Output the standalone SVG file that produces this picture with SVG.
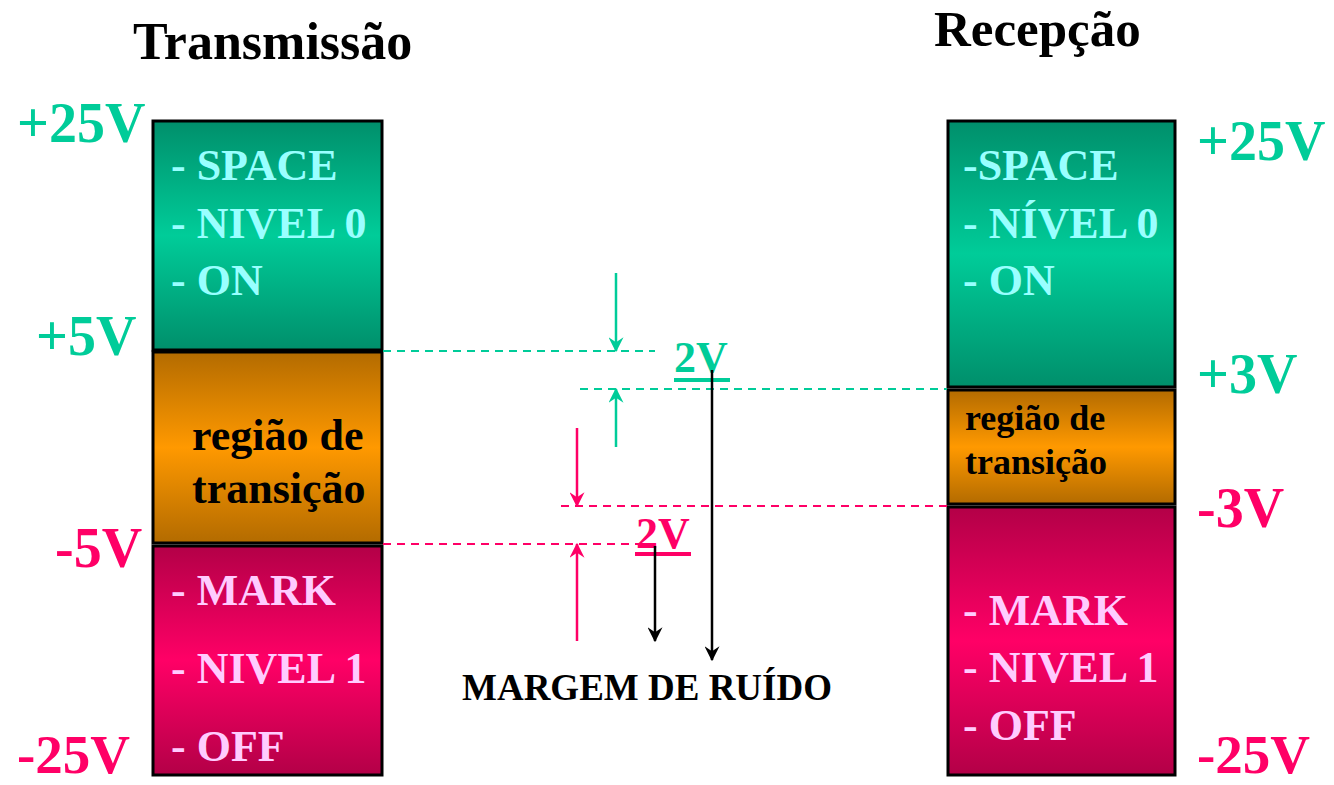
<svg xmlns="http://www.w3.org/2000/svg" width="1334" height="785" viewBox="0 0 1334 785">
<defs>
<linearGradient id="gGreen" x1="0" y1="0" x2="0" y2="1">
<stop offset="0" stop-color="#008f6b"/><stop offset="0.5" stop-color="#00cc99"/><stop offset="1" stop-color="#008f6b"/>
</linearGradient>
<linearGradient id="gOrange" x1="0" y1="0" x2="0" y2="1">
<stop offset="0" stop-color="#b36b00"/><stop offset="0.5" stop-color="#ff9900"/><stop offset="1" stop-color="#b36b00"/>
</linearGradient>
<linearGradient id="gPink" x1="0" y1="0" x2="0" y2="1">
<stop offset="0" stop-color="#b30047"/><stop offset="0.5" stop-color="#ff0066"/><stop offset="1" stop-color="#b30047"/>
</linearGradient>
<marker id="aTeal" viewBox="0 0 12 12" refX="11" refY="6" markerWidth="15" markerHeight="15" markerUnits="userSpaceOnUse" orient="auto">
<path d="M0,0 L12,6 L0,12 L4,6 Z" fill="#00cc99"/>
</marker>
<marker id="aPink" viewBox="0 0 12 12" refX="11" refY="6" markerWidth="15" markerHeight="15" markerUnits="userSpaceOnUse" orient="auto">
<path d="M0,0 L12,6 L0,12 L4,6 Z" fill="#ff0066"/>
</marker>
<marker id="aBlack" viewBox="0 0 12 12" refX="11" refY="6" markerWidth="15" markerHeight="15" markerUnits="userSpaceOnUse" orient="auto">
<path d="M0,0 L12,6 L0,12 L4,6 Z" fill="#000"/>
</marker>
</defs>
<style>
text{font-family:"Liberation Serif","Times New Roman",serif;font-weight:bold}
.title{font-size:52px;fill:#000}
.vt{font-size:56px;fill:#00cc99}
.vp{font-size:56px;fill:#ff0066}
.bt{font-size:44px;fill:#99ffff}
.bp{font-size:44px;fill:#ffccff}
.bo{font-size:44px;fill:#000}
.bo2{font-size:36px;fill:#000}
.box{stroke:#000;stroke-width:3}
.dt{stroke:#00cc99;stroke-width:2;stroke-dasharray:8 6;fill:none}
.dp{stroke:#ff0066;stroke-width:2;stroke-dasharray:8 6;fill:none}
.at{stroke:#00cc99;stroke-width:2.5;fill:none}
.ap{stroke:#ff0066;stroke-width:2.5;fill:none}
.ab{stroke:#000;stroke-width:2.5;fill:none}
</style>
<rect width="1334" height="785" fill="#fff"/>

<text class="title" x="133" y="59">Transmissão</text>
<text class="title" x="934" y="46" style="font-size:51px">Recepção</text>

<g id="tx-space">
<rect class="box" x="153" y="121" width="229" height="229" fill="url(#gGreen)"/>
<text class="bt" x="171" y="180">- SPACE</text>
<text class="bt" x="171" y="238">- NIVEL 0</text>
<text class="bt" x="171" y="295">- ON</text>
</g>
<g id="tx-trans">
<rect class="box" x="153" y="352" width="229" height="191" fill="url(#gOrange)"/>
<text class="bo" x="192" y="450">região de</text>
<text class="bo" x="192" y="503">transição</text>
</g>
<g id="tx-mark">
<rect class="box" x="153" y="546" width="229" height="229" fill="url(#gPink)"/>
<text class="bp" x="171" y="605">- MARK</text>
<text class="bp" x="171" y="683">- NIVEL 1</text>
<text class="bp" x="171" y="761">- OFF</text>
</g>

<g id="rx-space">
<rect class="box" x="948" y="121" width="227" height="266" fill="url(#gGreen)"/>
<text class="bt" x="963" y="180">-SPACE</text>
<text class="bt" x="963" y="238">- NÍVEL 0</text>
<text class="bt" x="963" y="295">- ON</text>
</g>
<g id="rx-trans">
<rect class="box" x="948" y="390" width="227" height="114" fill="url(#gOrange)"/>
<text class="bo2" x="965" y="430">região de</text>
<text class="bo2" x="965" y="474">transição</text>
</g>
<g id="rx-mark">
<rect class="box" x="948" y="507" width="227" height="268" fill="url(#gPink)"/>
<text class="bp" x="963" y="625">- MARK</text>
<text class="bp" x="963" y="682">- NIVEL 1</text>
<text class="bp" x="963" y="740">- OFF</text>
</g>

<g id="labels">
<text class="vt" x="17" y="142">+25V</text>
<text class="vt" x="36" y="355">+5V</text>
<text class="vp" x="55" y="567">-5V</text>
<text class="vp" x="17" y="773" style="font-size:55px">-25V</text>
<text class="vt" x="1197" y="160">+25V</text>
<text class="vt" x="1197" y="393">+3V</text>
<text class="vp" x="1197" y="527">-3V</text>
<text class="vp" x="1197" y="773" style="font-size:55px">-25V</text>
<text style="font-size:44px;fill:#00cc99" x="674" y="372">2V</text>
<text style="font-size:44px;fill:#ff0066" x="636" y="548">2V</text>
<text style="font-size:37px;fill:#000" x="462" y="700">MARGEM DE RUÍDO</text>
</g>

<g id="connectors">
<line class="dt" x1="383" y1="351" x2="655" y2="351"/>
<line class="dt" x1="580" y1="389" x2="947" y2="389"/>
<line class="dp" x1="561" y1="506" x2="947" y2="506"/>
<line class="dp" x1="383" y1="544" x2="640" y2="544"/>
<line x1="674" y1="380" x2="730" y2="380" stroke="#00cc99" stroke-width="4"/>
<line x1="635" y1="554" x2="691" y2="554" stroke="#ff0066" stroke-width="4"/>
<line class="at" x1="616" y1="273" x2="616" y2="351" marker-end="url(#aTeal)"/>
<line class="at" x1="616" y1="447" x2="616" y2="389" marker-end="url(#aTeal)"/>
<line class="ap" x1="577" y1="428" x2="577" y2="506" marker-end="url(#aPink)"/>
<line class="ap" x1="577" y1="641" x2="577" y2="544" marker-end="url(#aPink)"/>
<line class="ab" x1="712" y1="370" x2="712" y2="660" marker-end="url(#aBlack)"/>
<line class="ab" x1="655" y1="546" x2="655" y2="641" marker-end="url(#aBlack)"/>
</g>
</svg>
